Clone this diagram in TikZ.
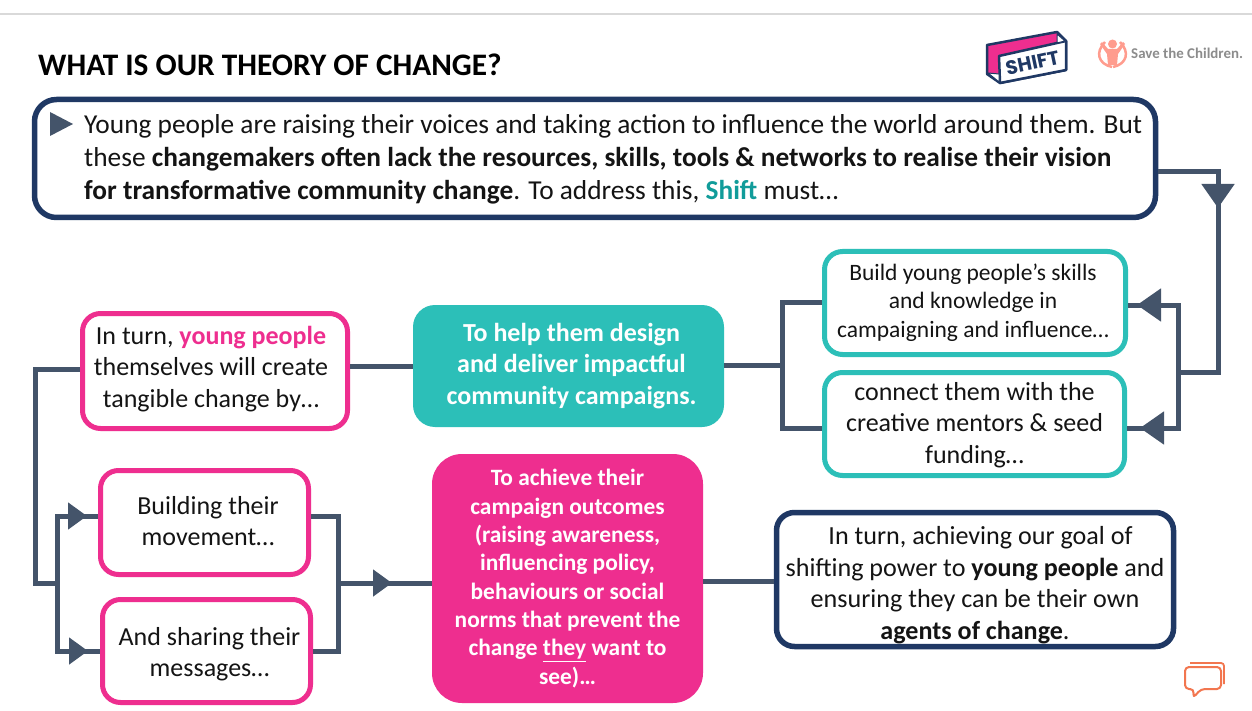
\documentclass[tikz,border=0pt]{standalone}
\usepackage{fontspec}
\setmainfont{Carlito}
\newfontfamily\logofont{Poppins}
\usetikzlibrary{arrows.meta}
\definecolor{navy}{HTML}{1F3864}
\definecolor{pinkc}{HTML}{EE2E8F}
\definecolor{tealc}{HTML}{2CBFB8}
\definecolor{tealt}{HTML}{119C9A}
\definecolor{conn}{HTML}{44546A}
\definecolor{salmon}{HTML}{FF9C8E}
\definecolor{bubble}{HTML}{F2764F}
\newcommand{\fs}[2]{\fontsize{#1}{#2}\selectfont}
\newcommand{\sh}[1]{\hspace*{#1}}
\tikzset{
 x=1pt,y=-1pt,
 box/.style={draw,rounded corners=#1,line width=5pt,inner sep=0pt,align=center,fill=white,text=black!92},
 box/.default=18pt,
 solidbox/.style={rounded corners=22pt,inner sep=0pt,align=center,text=white,font=\bfseries},
 lastline/.style={text height=#1,text depth=0pt},
 wire/.style={draw=conn,line width=5pt,line join=miter,line cap=butt},
 tip/.style={wire,-{Triangle[length=24pt,width=32pt,fill=conn]}},
 tipsmall/.style={wire,-{Triangle[length=19pt,width=26pt,fill=conn]}},
}
\begin{document}
\begin{tikzpicture}
\useasboundingbox (0,0) rectangle (1252,711);
\fill[white] (0,0) rectangle (1252,711);
\draw[line width=1.5pt,black!15] (0,14) -- (1252,14);
\node[anchor=base west,inner sep=0pt,font=\bfseries\fs{31.3}{36},text=black] (title) at (38,76) {WHAT IS OUR THEORY OF CHANGE?};

% boxes
\node[box=22pt,draw=navy,line width=5.5pt,minimum width=1121pt,minimum height=118pt] (topbox) at (595,158.5) {};
\node[anchor=base west,inner sep=0pt,align=left,font=\fs{27.35}{33},text=black!92] (toptext) at (84,200)
 {Young people are raising their voices and taking action to influence the world around them. But\\
 these \textbf{changemakers often lack the resources, skills, tools \& networks to realise their vision}\\
 \textbf{for transformative community change}. To address this, \textbf{\textcolor{tealt}{Shift}} must…};
\fill[conn] (50,112) -- (73,124) -- (50,136) -- cycle;

\node[box,draw=tealc,minimum width=301pt,minimum height=103pt,font=\fs{23.5}{28.5},lastline=68pt] (build) at (975,303)
 {\sh{-4pt}Build young people’s skills\\\sh{-4pt}and knowledge in\\\sh{-4pt}campaigning and influence…};
\node[box,draw=tealc,minimum width=300pt,minimum height=103pt,font=\fs{26}{31.5},lastline=78pt] (connect) at (974.5,424)
 {connect them with the\\creative mentors \& seed\\funding…};
\node[box,draw=pinkc,minimum width=265pt,minimum height=115pt,font=\fs{26}{31.5},lastline=72pt] (inturn) at (215,371)
 {\sh{-8pt}In turn, \textbf{\textcolor{pinkc}{young people}}\\\sh{-8pt}themselves will create\\\sh{-8pt}tangible change by…};
\node[solidbox,fill=tealc,minimum width=311pt,minimum height=122pt,font=\bfseries\fs{26}{31.5},lastline=76pt] (design) at (568.5,366)
 {\sh{6pt}To help them design\\\sh{6pt}and deliver impactful\\\sh{6pt}community campaigns.};
\node[box,draw=pinkc,minimum width=208pt,minimum height=104pt,font=\fs{26}{31.5},lastline=46pt] (building) at (204.5,522.5)
 {\sh{7pt}Building their\\\sh{7pt}movement…};
\node[box,draw=pinkc,minimum width=208pt,minimum height=103pt,font=\fs{26}{31.5},lastline=51pt] (sharing) at (206.5,651)
 {\sh{6pt}And sharing their\\\sh{6pt}messages…};
\node[solidbox,rounded corners=30pt,fill=pinkc,minimum width=271pt,minimum height=249pt,font=\bfseries\fs{23.4}{28.3},lastline=211pt] (achieve) at (567.5,578.5)
 {To achieve their\\campaign outcomes\\(raising awareness,\\influencing policy,\\behaviours or social\\norms that prevent the\\change \underline{they} want to\\see)…};
\node[box,draw=navy,line width=5.5pt,minimum width=397pt,minimum height=134pt,font=\fs{26.1}{31.4},lastline=119pt] (goal) at (975,579.5)
 {\sh{11pt}In turn, achieving our goal of\\shifting power to \textbf{young people} and\\ensuring they can be their own\\\textbf{agents of change}.};

% junction coordinates
\coordinate (a) at (1218,172);
\coordinate (atip) at (1218,208);
\coordinate (b) at (1218,372);
\coordinate (c) at (1178,372);
\coordinate (c1) at (1178,305);
\coordinate (c1tip) at (1137,305);
\coordinate (c2) at (1178,428);
\coordinate (c2tip) at (1140,428);
\coordinate (d) at (782,365);
\coordinate (d1) at (782,302);
\coordinate (d2) at (782,428);
\coordinate (e) at (35,369);
\coordinate (f) at (35,583);
\coordinate (g) at (57,583);
\coordinate (g1) at (57,516);
\coordinate (g1tip) at (87,516);
\coordinate (g2) at (57,651);
\coordinate (g2tip) at (88,651);
\coordinate (h) at (338,583);
\coordinate (h1) at (338,516);
\coordinate (h2) at (338,651);
\coordinate (htip) at (392,583);
\coordinate (k) at (740,581);

% connectors
\draw[wire] (topbox.east |- a) -- (a) -- (b) -- (c);
\draw[wire] (c1) -- (build.east |- c1);
\draw[wire] (c2) -- (connect.east |- c2);
\draw[wire] (g1) -- (building.west |- g1);
\draw[wire] (g2) -- (sharing.west |- g2);
\draw[wire] (h) -- (achieve.west |- htip);
\draw[tip] (a) -- (atip);
\draw[tip] (c) -- (c1) -- (c1tip);
\draw[tip] (c) -- (c2) -- (c2tip);
\draw[wire] (build.west |- d1) -- (d1) -- (d2) -- (connect.west |- d2);
\draw[wire] (design.east |- d) -- (d);
\draw[wire] (design.west) -- (inturn.east |- design.west);
\draw[wire] (inturn.west |- e) -- (e) -- (f) -- (g);
\draw[tipsmall] (g) -- (g1) -- (g1tip);
\draw[tipsmall] (g) -- (g2) -- (g2tip);
\draw[wire] (building.east |- h1) -- (h1) -- (h2) -- (sharing.east |- h2);
\draw[tipsmall] (h) -- (htip);
\draw[wire] (achieve.east |- k) -- (goal.west |- k);

% SHIFT logo
\fill[pinkc,draw=navy,line width=2.5pt,line join=round] (987,45) -- (1057,32) -- (1066,41) -- (1066,70) -- (1000,83) -- (987,74) -- cycle;
\fill[white,draw=navy,line width=2.5pt,line join=round] (999,56) -- (1066,41) -- (1066,70) -- (1000,83) -- cycle;
\fill[white,draw=navy,line width=1pt] (1057,34) -- (1065,41) -- (1057,43) -- cycle;
\fill[white,draw=navy,line width=1pt] (988,73) -- (999,74) -- (999,82) -- cycle;
\node[rotate=12,inner sep=0pt,font=\logofont\bfseries\fs{19.5}{20},text=navy] (shift) at (1032.5,63) {SHIFT};

% Save the Children logo
\draw[salmon,line width=2.5pt] (1105,42) .. controls (1095,52) and (1098,64) .. (1112,67);
\draw[salmon,line width=2.5pt] (1120,42) .. controls (1130,52) and (1127,64) .. (1113,67);
\fill[salmon] (1112.5,44) circle[radius=4.5pt];
\fill[salmon] (1102,42) -- (1108,49) -- (1117,49) -- (1123,42) -- (1125,44) -- (1118,54) -- (1117,65) -- (1108,65) -- (1107,54) -- (1100,44) -- cycle;
\node[anchor=west,inner sep=0pt,font=\bfseries\fs{14.9}{18},text=black!45] (stc) at (1131,53) {Save the Children.};

% comment icon
\draw[bubble,line width=1.8pt,rounded corners=3pt] (1190,663) -- (1224,663) -- (1224,684);
\draw[bubble,line width=2pt,rounded corners=4pt,line join=round] (1193,667) -- (1221,667) -- (1221,689) -- (1201,689) -- (1193,698) -- (1194,689) -- (1185,689) -- (1185,667) -- cycle;
\end{tikzpicture}
\end{document}
